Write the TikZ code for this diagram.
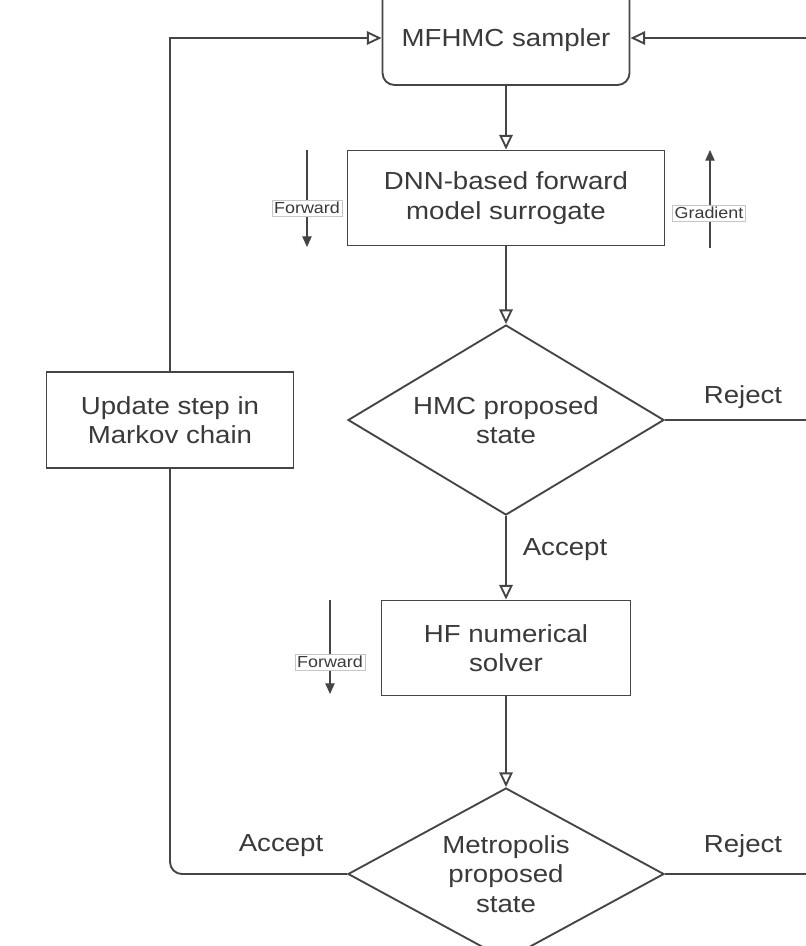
\documentclass[tikz,border=0pt]{standalone}
\usepackage{fontspec}
\setmainfont[FakeStretch=1.12]{Liberation Sans}
\usetikzlibrary{arrows.meta,shapes.geometric}
\definecolor{ln}{HTML}{454545}
\definecolor{tx}{HTML}{3A3A3A}
\begin{document}
\begin{tikzpicture}[x=0.75pt,y=-0.75pt,
  every node/.style={text=tx},
  box/.style={draw=ln,line width=1.4pt,fill=white,inner sep=2pt,align=center,
    font=\fontsize{18.5}{22}\selectfont},
  rbox/.style={box,rounded corners=9pt},
  dia/.style={box,diamond,inner sep=0pt,shape aspect=1.7},
  lab/.style={font=\fontsize{18.5}{22}\selectfont},
  conn/.style={draw=ln,line width=1.4pt,-{Triangle[open,length=11pt,width=10pt]}},
  line/.style={draw=ln,line width=1.4pt},
  small/.style={draw=ln,line width=0.9pt,-{Triangle[length=8pt,width=7pt]}},
  tag/.style={draw=gray!45,line width=0.5pt,fill=white,inner sep=1.5pt,
    font=\fontsize{12}{13}\selectfont}
]
\clip (0,0) rectangle (806,946);
\fill[white] (0,0) rectangle (806,946);

\node[rbox,minimum width=185.25pt,minimum height=79.5pt,text height=22pt,text depth=0pt] (mf) at (506,32) {MFHMC sampler};
\node[box,minimum width=237.75pt,minimum height=71.25pt] (dnn) at (506,198) {DNN-based forward\\model surrogate};
\node[dia,minimum width=237pt,minimum height=142.5pt] (hmc) at (506,420) {HMC proposed\\state};
\node[box,minimum width=186.75pt,minimum height=71.25pt] (hf) at (506,648) {HF numerical\\solver};
\node[dia,minimum width=237pt,minimum height=129pt,shape aspect=1.84] (met) at (506,874) {Metropolis\\proposed\\state};
\node[box,minimum width=185.25pt,minimum height=72pt] (up) at (170,420) {Update step in\\Markov chain};

\coordinate (tl) at (170,38);
\coordinate (bl) at (170,874);
\coordinate (tr) at (840,38);
\coordinate (hr) at (840,420);
\coordinate (mr) at (840,874);

% main connectors
\draw[conn] (mf.south) -- (dnn.north);
\draw[conn] (dnn.south) -- (hmc.north);
\draw[conn] (hmc.south) -- (hf.north);
\draw[conn] (hf.south) -- (met.north);
\draw[line,rounded corners=9pt] (met.west) -- (bl) -- (up.south);
\draw[conn] (up.north) -- (tl) -- (tl -| mf.west);
\draw[line] (hmc.east) -- (hr);
\draw[conn] (met.east) -- (mr) -- (tr) -- (tr -| mf.east);

% labels
\node[lab] (rj1) at (743,397) {Reject};
\node[lab] (ac1) at (565,550) {Accept};
\node[lab] (ac2) at (281,846) {Accept};
\node[lab] (rj2) at (743,846) {Reject};

% forward / gradient arrows
\coordinate (f1a) at (307,150);
\coordinate (f1b) at (307,247);
\draw[small] (f1a) -- (f1b);
\node[tag] (f1) at (307,208) {Forward};
\coordinate (g1a) at (710,248);
\coordinate (g1b) at (710,150);
\draw[small] (g1a) -- (g1b);
\node[tag] (g1) at (709,213) {Gradient};
\coordinate (f2a) at (330,600);
\coordinate (f2b) at (330,694);
\draw[small] (f2a) -- (f2b);
\node[tag] (f2) at (330,662) {Forward};
\end{tikzpicture}
\end{document}
